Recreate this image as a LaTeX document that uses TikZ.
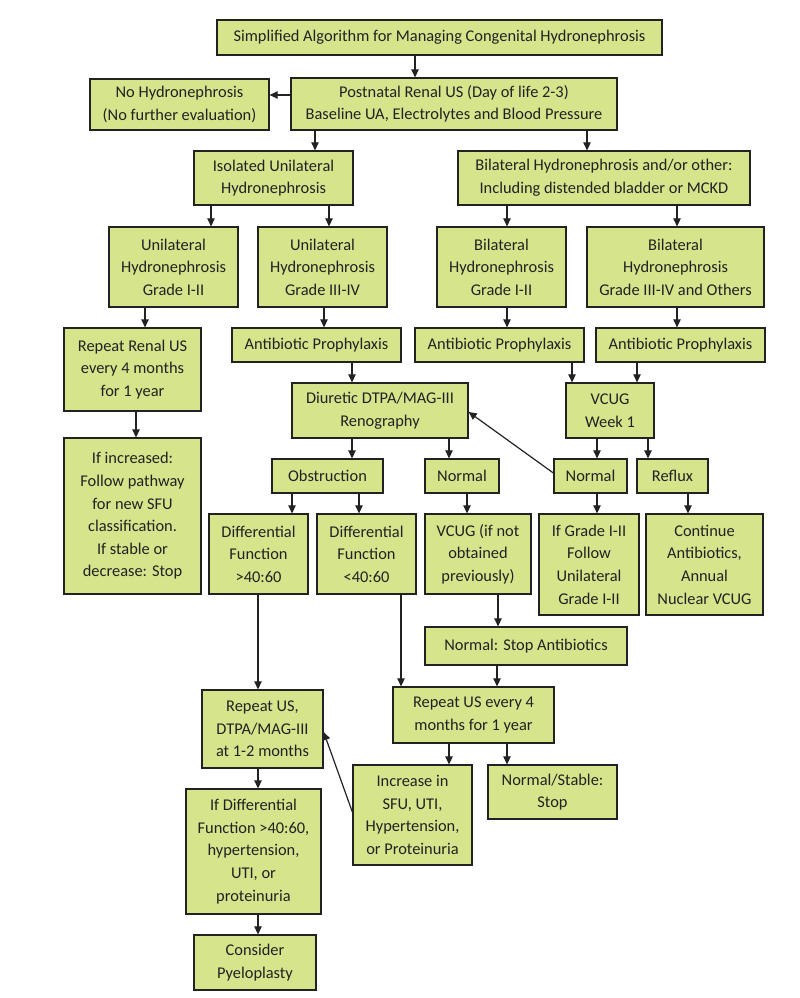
\documentclass[tikz,border=0pt]{standalone}
\usepackage{fontspec}
\setmainfont{Carlito}
\usetikzlibrary{arrows.meta}
\definecolor{boxgreen}{RGB}{214,228,140}
\definecolor{boxline}{RGB}{34,34,34}

\begin{document}
\begin{tikzpicture}[x=1pt,y=-1pt]
				\tikzstyle{greenbox}=[draw=boxline,fill=boxgreen,line width=1.3pt,inner sep=0pt,align=center,
				text=boxline,font=\fontsize{16.4}{22.6}\selectfont]
				\tikzstyle{arr}=[draw=boxline,line width=1.2pt,-{Triangle[length=8pt,width=7.5pt]}]
				\useasboundingbox (0,0) rectangle (800,998);
				% top row
				\node[greenbox,minimum width=445,minimum height=35] (title) at (439.5,37.5) {Simplified Algorithm for Managing Congenital Hydronephrosis};
				\node[greenbox,minimum width=326,minimum height=52] (post) at (454,104) {Postnatal Renal US (Day of life 2-3)\\Baseline UA, Electrolytes and Blood Pressure};
				\node[greenbox,minimum width=179,minimum height=51] (nohyd) at (179.5,104.5) {No Hydronephrosis\\(No further evaluation)};
				\node[greenbox,minimum width=159,minimum height=54] (iso) at (273.5,178) {Isolated Unilateral\\Hydronephrosis};
				\node[greenbox,minimum width=292,minimum height=54] (bil) at (604,178) {Bilateral Hydronephrosis and/or other:\\Including distended bladder or MCKD};
				% grades
				\node[greenbox,minimum width=129,minimum height=80] (uni12) at (173.5,267) {Unilateral\\Hydronephrosis\\Grade I-II};
				\node[greenbox,minimum width=129,minimum height=80] (uni34) at (322.5,267) {Unilateral\\Hydronephrosis\\Grade III-IV};
				\node[greenbox,minimum width=129,minimum height=80] (bil12) at (501.5,267) {Bilateral\\Hydronephrosis\\Grade I-II};
				\node[greenbox,minimum width=177,minimum height=80] (bil34) at (675.5,267) {Bilateral\\Hydronephrosis\\Grade III-IV and Others};
				% prophylaxis
				\node[greenbox,minimum width=137,minimum height=83] (rep) at (132.5,369.5) {Repeat Renal US\\every 4 months\\for 1 year};
				\node[greenbox,minimum width=169,minimum height=34] (ab1) at (316.5,345) {Antibiotic Prophylaxis};
				\node[greenbox,minimum width=169,minimum height=34] (ab2) at (499.5,345) {Antibiotic Prophylaxis};
				\node[greenbox,minimum width=169,minimum height=34] (ab3) at (680.5,345) {Antibiotic Prophylaxis};
				\node[greenbox,minimum width=176,minimum height=55] (diur) at (380,410.5) {Diuretic DTPA/MAG-III\\Renography};
				\node[greenbox,minimum width=88,minimum height=55] (vcug) at (610,410.5) {VCUG\\Week 1};
				% results
				\node[greenbox,minimum width=111,minimum height=34] (obst) at (327.5,476) {Obstruction};
				\node[greenbox,minimum width=74,minimum height=34] (norm1) at (462,476) {Normal};
				\node[greenbox,minimum width=73,minimum height=34] (norm2) at (590.5,476) {Normal};
				\node[greenbox,minimum width=71,minimum height=34] (refl) at (672.5,476) {Reflux};
				\node[greenbox,minimum width=137,minimum height=156] (incr) at (132.5,516) {If increased:\\Follow pathway\\for new SFU\\classification.\\If stable or\\decrease: Stop};
				\node[greenbox,minimum width=99,minimum height=80] (dgt) at (258.5,554) {Differential\\Function\\>40:60};
				\node[greenbox,minimum width=99,minimum height=80] (dlt) at (366.5,554) {Differential\\Function\\<40:60};
				\node[greenbox,minimum width=106,minimum height=80] (vcug2) at (478,554) {VCUG (if not\\obtained\\previously)};
				\node[greenbox,minimum width=100,minimum height=101] (grade) at (589,564.5) {If Grade I-II\\Follow\\Unilateral\\Grade I-II};
				\node[greenbox,minimum width=117,minimum height=101] (cont) at (704.5,564.5) {Continue\\Antibiotics,\\Annual\\Nuclear VCUG};
				% follow up
				\node[greenbox,minimum width=202,minimum height=38] (nstop) at (526,646) {Normal: Stop Antibiotics};
				\node[greenbox,minimum width=161,minimum height=56] (rep4) at (473.5,715) {Repeat US every 4\\months for 1 year};
				\node[greenbox,minimum width=121,minimum height=78] (repd) at (262.5,729) {Repeat US,\\DTPA/MAG-III\\at 1-2 months};
				\node[greenbox,minimum width=119,minimum height=100] (incsfu) at (412.5,815) {Increase in\\SFU, UTI,\\Hypertension,\\or Proteinuria};
				\node[greenbox,minimum width=129,minimum height=54] (nstab) at (552.5,792) {Normal/Stable:\\Stop};
				\node[greenbox,minimum width=135,minimum height=125] (ifdiff) at (253.5,851.5) {If Differential\\Function >40:60,\\hypertension,\\UTI, or\\proteinuria};
				\node[greenbox,minimum width=122,minimum height=55] (cons) at (255,962.5) {Consider\\Pyeloplasty};
				% vertical arrows, at the x where they sit
				\foreach \a/\b/\x in {title/post/415, post/iso/315, post/bil/587, iso/uni12/211, iso/uni34/329,
					bil/bil12/507, bil/bil34/677, uni12/rep/145, uni34/ab1/324, bil12/ab2/507, bil34/ab3/677,
					rep/incr/136, ab1/diur/352, ab2/vcug/572, ab3/vcug/637, diur/obst/352, diur/norm1/449,
					vcug/norm2/597, vcug/refl/648, obst/dgt/292, obst/dlt/359, norm1/vcug2/467,
					norm2/grade/597, refl/cont/688, dgt/repd/258, dlt/rep4/401, vcug2/nstop/498,
					nstop/rep4/497, rep4/incsfu/449, rep4/nstab/507, repd/ifdiff/258, ifdiff/cons/258}
					\draw[arr] (\a.south -| \x,0) -- (\b.north -| \x,0);
				% the other arrows
				\draw[arr] (post.west |- 0,95) -- (nohyd.east |- 0,95);
				\draw[arr] ([yshift=3pt]norm2.west) -- (diur.east |- 0,412);
				\draw[arr] (incsfu.west |- 0,812) -- (repd.east |- 0,732);
				\end{tikzpicture}
\end{document}
